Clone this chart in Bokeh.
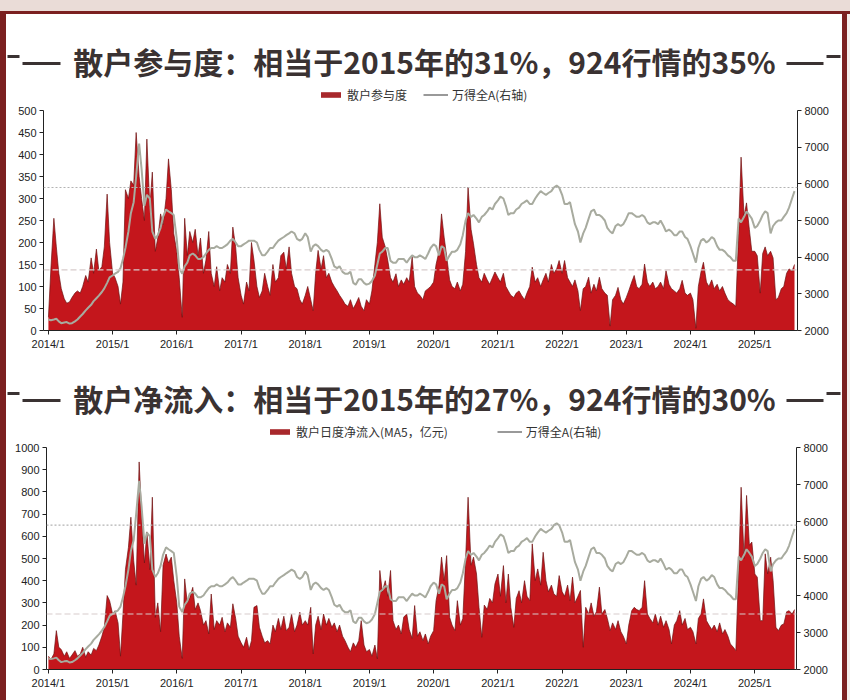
import pandas as pd
from bokeh.plotting import figure
from bokeh.models import (Range1d, LinearAxis, FixedTicker, DatetimeTickFormatter,
                          Span, Legend, LegendItem, Div, ColumnDataSource)
from bokeh.layouts import column, row
from bokeh.core.properties import value
from bokeh.embed import file_html
from bokeh.resources import INLINE

# ---------------- data (semi-monthly readings, 2014/1 .. 2025/8) ----------------
dates = pd.date_range("2014-01-01", periods=280, freq="SMS")

participation = (
    [30, 140, 255, 190, 130, 95, 72, 62, 65, 75, 85, 90, 85, 100, 125, 110, 165, 130, 185, 135, 145, 190, 310, 200]  # 2014
    + [130, 120, 100, 60, 110, 320, 300, 340, 330, 450, 350, 300, 250, 435, 280, 360, 180, 210, 265, 240, 300, 390, 320, 220]  # 2015
    + [180, 120, 30, 255, 170, 225, 200, 230, 170, 210, 130, 160, 225, 130, 100, 145, 90, 120, 110, 150, 130, 235, 190, 120]  # 2016
    + [80, 60, 110, 90, 200, 160, 100, 75, 90, 130, 100, 80, 150, 110, 120, 170, 178, 140, 190, 130, 100, 95, 70, 60]  # 2017
    + [80, 100, 70, 45, 130, 182, 140, 170, 120, 130, 110, 100, 90, 80, 70, 60, 55, 70, 50, 60, 75, 55, 45, 70]  # 2018
    + [60, 90, 150, 200, 288, 212, 190, 160, 120, 110, 129, 100, 115, 105, 120, 110, 167, 100, 85, 80, 70, 90, 95, 100]  # 2019
    + [110, 150, 180, 265, 212, 170, 115, 100, 95, 110, 90, 105, 180, 326, 230, 197, 150, 120, 110, 130, 115, 105, 120, 133]  # 2020
    + [120, 110, 130, 100, 90, 80, 75, 85, 90, 80, 70, 85, 100, 144, 110, 120, 100, 115, 130, 110, 150, 130, 140, 159]  # 2021
    + [130, 159, 120, 110, 100, 115, 90, 45, 95, 100, 121, 85, 105, 90, 121, 95, 85, 80, 10, 70, 80, 98, 70, 60]  # 2022
    + [75, 90, 110, 125, 100, 95, 105, 151, 110, 100, 110, 95, 100, 110, 95, 136, 105, 95, 90, 85, 95, 114, 85, 80]  # 2023
    + [85, 70, 5, 100, 133, 155, 110, 100, 115, 95, 105, 90, 100, 85, 70, 65, 60, 55, 220, 394, 260, 290, 230, 180]  # 2024
    + [180, 170, 85, 175, 190, 170, 180, 165, 70, 75, 95, 100, 130, 140, 135, 150]  # 2025
)

inflow = (
    [60, 45, 70, 175, 100, 90, 60, 80, 50, 65, 85, 60, 70, 100, 55, 80, 65, 95, 85, 110, 150, 190, 333, 310]  # 2014
    + [250, 265, 210, 60, 250, 450, 550, 686, 490, 380, 935, 700, 480, 620, 450, 776, 235, 300, 170, 470, 520, 480, 506, 400]  # 2015
    + [300, 150, 50, 408, 300, 325, 370, 270, 300, 265, 200, 220, 160, 340, 180, 220, 200, 235, 170, 210, 190, 296, 230, 150]  # 2016
    + [120, 100, 145, 90, 130, 280, 288, 190, 150, 120, 130, 115, 200, 170, 230, 180, 240, 175, 190, 250, 170, 200, 258, 200]  # 2017
    + [220, 200, 280, 70, 200, 240, 180, 250, 200, 230, 190, 210, 170, 200, 150, 130, 100, 80, 120, 100, 130, 220, 110, 80]  # 2018
    + [90, 60, 110, 48, 446, 350, 400, 330, 446, 220, 180, 200, 160, 236, 250, 180, 140, 288, 150, 170, 130, 160, 115, 150]  # 2019
    + [175, 310, 380, 506, 400, 513, 235, 200, 175, 310, 200, 230, 500, 776, 470, 506, 430, 280, 145, 290, 270, 320, 300, 386]  # 2020
    + [430, 330, 468, 300, 430, 280, 190, 320, 355, 300, 400, 330, 310, 566, 400, 453, 380, 528, 400, 350, 380, 340, 330, 423]  # 2021
    + [350, 330, 380, 310, 416, 300, 330, 356, 100, 280, 250, 300, 240, 260, 371, 250, 270, 230, 175, 210, 180, 220, 170, 150]  # 2022
    + [115, 200, 265, 280, 270, 265, 280, 400, 250, 230, 210, 250, 200, 240, 190, 220, 180, 115, 200, 220, 265, 200, 230, 180]  # 2023
    + [190, 170, 115, 230, 250, 318, 220, 200, 180, 200, 170, 210, 160, 180, 150, 115, 100, 85, 446, 821, 500, 784, 560, 574]  # 2024
    + [430, 416, 220, 220, 521, 431, 506, 400, 190, 175, 200, 205, 260, 265, 250, 270]  # 2025
)

wind_all_a = (
    [2300, 2280, 2300, 2320, 2250, 2200, 2220, 2230, 2190, 2200, 2250, 2300, 2380, 2450, 2550, 2620, 2700, 2800, 2880, 2950, 3050, 3150, 3300, 3450]  # 2014
    + [3500, 3550, 3600, 3700, 3950, 4250, 4700, 5200, 5500, 6200, 7100, 6400, 5400, 5700, 5600, 4700, 4500, 4600, 4800, 5100, 5300, 5250, 5200, 5150]  # 2015
    + [4500, 3700, 3550, 3750, 3850, 4050, 4100, 4050, 3950, 3950, 4000, 4100, 4200, 4250, 4250, 4300, 4250, 4250, 4300, 4350, 4450, 4500, 4400, 4300]  # 2016
    + [4300, 4350, 4400, 4450, 4450, 4450, 4400, 4200, 4050, 4050, 4150, 4250, 4250, 4350, 4450, 4500, 4550, 4600, 4650, 4700, 4650, 4500, 4450, 4500]  # 2017
    + [4650, 4550, 4150, 4300, 4350, 4300, 4200, 4150, 4200, 4150, 3950, 3750, 3700, 3750, 3600, 3550, 3550, 3600, 3300, 3250, 3400, 3400, 3300, 3250]  # 2018
    + [3280, 3350, 3500, 3800, 4100, 4150, 4250, 4250, 3900, 3850, 3850, 3950, 3950, 3950, 3850, 3950, 4050, 4000, 4000, 4050, 4000, 3950, 4100, 4250]  # 2019
    + [4350, 4300, 4050, 4300, 4250, 3900, 4050, 4150, 4150, 4200, 4350, 4600, 5000, 5200, 5100, 5150, 5050, 4950, 5100, 5150, 5250, 5350, 5300, 5450]  # 2020
    + [5550, 5650, 5600, 5400, 5150, 5200, 5200, 5300, 5350, 5450, 5500, 5550, 5450, 5450, 5600, 5700, 5800, 5750, 5700, 5750, 5800, 5900, 5950, 5900]  # 2021
    + [5700, 5450, 5450, 5500, 5200, 4900, 4700, 4400, 4650, 4800, 5050, 5250, 5300, 5150, 5150, 5100, 5000, 4800, 4700, 4650, 4850, 4900, 4850, 4900]  # 2022
    + [5050, 5200, 5200, 5150, 5100, 5100, 5150, 5100, 4950, 4900, 4950, 4950, 4900, 5000, 4850, 4700, 4750, 4700, 4600, 4600, 4700, 4700, 4550, 4500]  # 2023
    + [4300, 4100, 3850, 4250, 4450, 4500, 4400, 4450, 4550, 4500, 4300, 4200, 4200, 4150, 4050, 4000, 3900, 3900, 5050, 4950, 5100, 5250, 5150, 5050]  # 2024
    + [4800, 4850, 5000, 5150, 5250, 5200, 4650, 4850, 4950, 5000, 5000, 5100, 5200, 5350, 5600, 5800]  # 2025
)

index_now = 5900          # current 万得全A level (dotted line)
participation_now = 138   # current participation (dashed line)
inflow_now = 250          # current net inflow (dashed line)

year_ticks = pd.date_range("2014-01-01", "2025-01-01", freq="YS")
index_ticks = [2000, 3000, 4000, 5000, 6000, 7000, 8000]

title_top = "散户参与度：相当于2015年的31%，924行情的35%"
title_bottom = "散户净流入：相当于2015年的27%，924行情的30%"
legend_top = "散户参与度"
legend_bottom = "散户日度净流入(MA5，亿元)"
legend_index = "万得全A(右轴)"

# ---------------- style ----------------
RED = "#c4161c"
DARK = "#6e1212"
GRAY = "#a8ab9f"
SWATCH = "#a8282c"
TITLE_COLOR = "#3a3232"
FRAME = "#7b2020"
CJK = "Noto Sans CJK SC"
W = 836


def style_axes(p):
    for ax in p.axis:
        ax.axis_line_color = "#222222"
        ax.major_tick_line_color = "#222222"
        ax.major_tick_out = 4
        ax.major_tick_in = 0
        ax.minor_tick_line_color = None
        ax.major_label_text_font = "Liberation Sans"
        ax.major_label_text_font_size = "11px"
        ax.major_label_text_color = "#222222"
        ax.major_label_standoff = 3


def make_header(height, title, bar_label, legend_x, spacing):
    h = figure(width=W, height=height, x_range=Range1d(0, W), y_range=Range1d(0, height),
               toolbar_location=None, output_backend="svg", min_border=0,
               x_axis_location=None, y_axis_location=None,
               background_fill_color="white", border_fill_color="white",
               outline_line_color=None)
    h.xgrid.visible = False
    h.ygrid.visible = False
    src = ColumnDataSource(dict(x=[418], y=[43], t=[title]))
    h.text(x="x", y="y", text="t", source=src, text_align="center", text_baseline="middle",
           text_font=value(CJK), text_font_size="30px", text_font_style="bold",
           text_color=TITLE_COLOR)
    # decorative rules either side of the title
    h.segment(x0=[16, 780], y0=[40, 40], x1=[54, 817], y1=[40, 40],
              line_color=TITLE_COLOR, line_width=3)
    h.segment(x0=[1, 820], y0=[47, 47], x1=[13, 834], y1=[47, 47],
              line_color=TITLE_COLOR, line_width=3)
    # legend-only renderers (kept outside the visible range)
    sw = ColumnDataSource(dict(x=[-50, -40], y1=[-50, -50], y2=[-40, -40]))
    dummy_area = h.varea(x="x", y1="y1", y2="y2", source=sw, fill_color=SWATCH)
    dummy_line = h.line(x="x", y="y1", source=sw, line_color="#555555", line_width=1.2)
    legend = Legend(items=[LegendItem(label=bar_label, renderers=[dummy_area]),
                           LegendItem(label=legend_index, renderers=[dummy_line])],
                    location=(legend_x, 0), orientation="horizontal",
                    label_text_font=CJK, label_text_font_size="12px",
                    label_text_color="#333333",
                    glyph_width=25, glyph_height=7, spacing=spacing, padding=0, margin=0,
                    label_standoff=4,
                    background_fill_alpha=0, border_line_alpha=0)
    h.add_layout(legend)
    return h


def make_panel(height, b_top, b_bottom, b_left, b_right, x0, x1, ymax, ystep, bars, level_now):
    p = figure(width=W, height=height, x_axis_type="datetime",
               x_range=Range1d(pd.Timestamp(x0), pd.Timestamp(x1)),
               y_range=Range1d(0, ymax),
               toolbar_location=None, output_backend="svg",
               min_border_top=b_top, min_border_bottom=b_bottom,
               min_border_left=b_left, min_border_right=b_right,
               background_fill_color="white", border_fill_color="white",
               outline_line_color=None)
    p.extra_y_ranges = {"idx": Range1d(2000, 8000)}
    p.add_layout(LinearAxis(y_range_name="idx", ticker=FixedTicker(ticks=index_ticks)), "right")
    p.left[0].ticker = FixedTicker(ticks=list(range(0, ymax + 1, ystep)))
    p.xaxis.ticker = FixedTicker(ticks=[t.value // 10**6 for t in year_ticks])
    p.xaxis.formatter = DatetimeTickFormatter(years="%Y/1", months="%Y/1", days="%Y/1")
    p.xgrid.visible = False
    p.ygrid.visible = False
    style_axes(p)

    p.varea(x=dates, y1=0, y2=bars, fill_color=RED)
    p.line(dates, bars, line_color=DARK, line_width=0.7)
    p.line(dates, wind_all_a, y_range_name="idx", line_color=GRAY, line_width=2)

    p.add_layout(Span(location=index_now, dimension="width", y_range_name="idx",
                      line_color="#b3b3b3", line_dash="2 2", line_width=1.2))
    p.add_layout(Span(location=level_now, dimension="width",
                      line_color="#d8cccc", line_dash="6 3", line_width=1.2))
    return p


h1 = make_header(89, title_top, legend_top, 312, 16)
p1 = make_panel(257, 7, 30, 37, 45, "2013-12-04", "2025-09-01", 500, 50,
                participation, participation_now)
h2 = make_header(80, title_bottom, legend_bottom, 261, 49)
p2 = make_panel(260, 7, 31, 40, 46, "2013-12-21", "2025-08-26", 1000, 100,
                inflow, inflow_now)

strip = Div(width=850, height=11, margin=0, styles={"background-color": "#eadcd7"})
topline = Div(width=850, height=3, margin=0, styles={"background-color": FRAME})
left_border = Div(width=6, height=686, margin=0, styles={"background-color": FRAME})
right_border = Div(width=5, height=686, margin=0, styles={"background-color": FRAME})
right_pad = Div(width=3, height=686, margin=0, styles={"background-color": "#f4eeec"})

# each figure in its own row so that the column does not align their frames
stack = column(row(h1, spacing=0), row(p1, spacing=0), row(h2, spacing=0), row(p2, spacing=0),
               spacing=0)
body = row(left_border, stack, right_border, right_pad, spacing=0)
layout = column(strip, topline, body, spacing=0)

open("out.html", "w").write(file_html(layout, INLINE))
